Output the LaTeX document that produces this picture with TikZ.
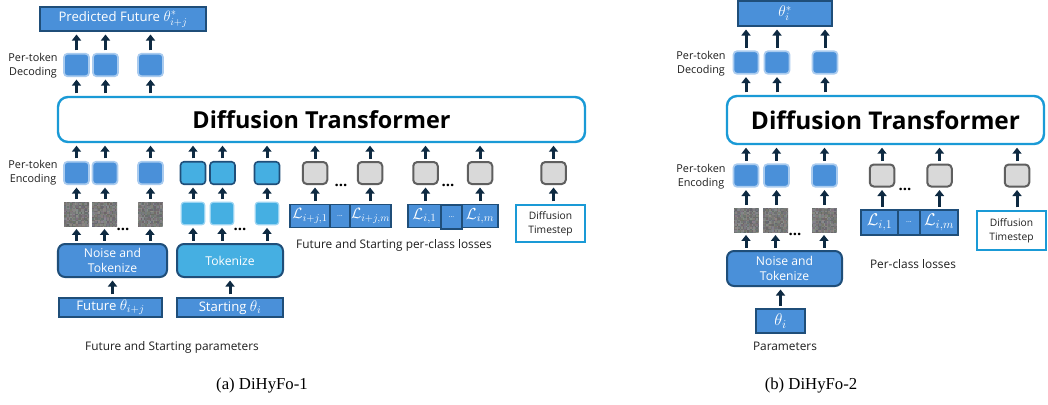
\RequirePackage{fix-cm}
\documentclass[tikz,border=0pt]{standalone}
\usepackage{fontspec}
\setmainfont{Open Sans}
\newfontfamily\capfont{Liberation Serif}
\usetikzlibrary{arrows.meta}

\definecolor{tokblue}{HTML}{4A90D9}
\definecolor{tokblueedge}{HTML}{A9CBEF}
\definecolor{tokcyan}{HTML}{45AFE2}
\definecolor{tokcyanedge}{HTML}{9AD4F2}
\definecolor{navy}{HTML}{1F4E79}
\definecolor{arrowc}{HTML}{0E2A42}
\definecolor{tokgray}{HTML}{D9D9D9}
\definecolor{grayedge}{HTML}{5F5F5F}
\definecolor{dtblue}{HTML}{1A9AD6}
\definecolor{labelc}{HTML}{1E1E1E}

% fine, slightly coloured grain for the noised tokens
\newcommand\grainfill{%
  \foreach \i in {0,...,16}{%
    \foreach \j in {0,...,16}{%
      \pgfmathsetmacro\nl{0.41+0.13*rnd}%
      \pgfmathsetmacro\nr{\nl+0.06*rnd-0.03}%
      \pgfmathsetmacro\ng{\nl+0.06*rnd-0.03}%
      \pgfmathsetmacro\nb{\nl+0.06*rnd-0.03}%
      \definecolor{nz}{rgb}{\nr,\ng,\nb}%
      \fill[nz] ([xshift=\i*1.5bp,yshift=-\j*1.5bp]path picture bounding box.north west)
        rectangle ++(1.55bp,-1.55bp);
    }%
  }%
}
% math set a little larger than the surrounding sans text
\newcommand\sizedmath[2]{{\fontsize{#1}{#1}\selectfont$#2$}}

\tikzset{
  lbl/.style={text=labelc, font=\fontsize{11.9}{13}\selectfont, inner sep=0, align=center},
  sidelbl/.style={text=labelc, font=\fontsize{10.9}{14}\selectfont, inner sep=0, align=center},
  bluetok/.style={draw=tokblueedge, line width=1.7bp, fill=tokblue, rounded corners=3.5bp,
    minimum width=25bp, minimum height=22.5bp, inner sep=0},
  cyantok/.style={draw=navy, line width=1.6bp, fill=tokcyan, rounded corners=3.5bp,
    minimum width=25bp, minimum height=22.5bp, inner sep=0},
  cyanlow/.style={draw=tokcyanedge, line width=1.2bp, fill=tokcyan, rounded corners=3bp,
    minimum width=23.5bp, minimum height=22.5bp, inner sep=0},
  graytok/.style={draw=grayedge, line width=2bp, fill=tokgray, rounded corners=4bp,
    minimum width=24.5bp, minimum height=22bp, inner sep=0},
  noisetok/.style={fill=gray, minimum width=25bp, minimum height=24.5bp, inner sep=0,
    path picture={\grainfill}},
  bluebox/.style={draw=navy, line width=2bp, fill=tokblue, text=white, inner sep=0,
    font=\fontsize{13.2}{15}\selectfont, align=center},
  procbox/.style={draw=navy, line width=2bp, fill=tokblue, text=white, rounded corners=7bp,
    inner sep=0, font=\fontsize{12.2}{15}\selectfont, align=center},
  lossbox/.style={draw=navy, line width=1.8bp, fill=tokblue, text=white, inner sep=0},
  ellcell/.style={lossbox, font=\fontsize{7}{8}\selectfont},
  dtbox/.style={draw=dtblue, line width=2.4bp, fill=white, rounded corners=10bp, inner sep=0},
  tsbox/.style={draw=dtblue, line width=2.4bp, fill=white, inner sep=0, text=labelc,
    font=\fontsize{10.3}{14}\selectfont, align=center},
  dots/.style={inner sep=0, font=\bfseries\fontsize{15}{15}\selectfont, text=black},
  upar/.style={draw=arrowc, line width=3bp, -{Triangle[width=9bp,length=6bp]},
    shorten <=2.5bp, shorten >=2.5bp},
  caption/.style={inner sep=0, font=\capfont\fontsize{16.8}{19}\selectfont}
}

\begin{document}
\begin{tikzpicture}[x=1bp, y=-1bp]
\fill[white] (0,0) rectangle (1048,404);
\useasboundingbox (0,0) rectangle (1048,404);
\pgfmathsetseed{4242}

% ===================== (a) DiHyFo-1 =====================
\node[bluebox, minimum width=166bp, minimum height=24bp] (predA) at (123,19)
  {Predicted Future \sizedmath{15}{\theta^{*}_{i+j}}};

\node[bluetok] (dA1) at (76.5,65) {};
\node[bluetok] (dA2) at (105.5,65) {};
\node[bluetok] (dA3) at (150.5,65) {};
\node[sidelbl] (decA) at (33,66) {Per-token\\Decoding};

\node[dtbox, minimum width=527bp, minimum height=45bp,
  font=\bfseries\fontsize{23.5}{27}\selectfont] (dtA) at (321.5,119.5) {Diffusion Transformer};

\node[bluetok] (eA1) at (76.5,173) {};
\node[bluetok] (eA2) at (105,173) {};
\node[bluetok] (eA3) at (150.5,173) {};
\node[cyantok] (cA1) at (193,173) {};
\node[cyantok] (cA2) at (222.5,173) {};
\node[cyantok] (cA3) at (267,173) {};
\node[graytok] (gA1) at (315,173) {};
\node[graytok] (gA2) at (370,173) {};
\node[graytok] (gA3) at (425.5,173) {};
\node[graytok] (gA4) at (480,173) {};
\node[graytok] (gA5) at (553.5,173) {};
\node[sidelbl] (encA) at (33,173) {Per-token\\Encoding};

\node[noisetok] (nA1) at (76.5,214) {};
\node[noisetok] (nA2) at (104.5,214) {};
\node[noisetok] (nA3) at (150,214) {};
\node[cyanlow] (kA1) at (193,213.5) {};
\node[cyanlow] (kA2) at (222,213.5) {};
\node[cyanlow] (kA3) at (267,213.5) {};

\node[procbox, minimum width=109bp, minimum height=33bp] (ntA) at (112.5,260.5) {Noise and\\Tokenize};
\node[procbox, fill=tokcyan, minimum width=106bp, minimum height=33bp] (tkA) at (230,260.5) {Tokenize};

\node[bluebox, minimum width=103bp, minimum height=19.5bp] (futA) at (110.5,307.5) {Future \sizedmath{15.5}{\theta_{i+j}}};
\node[bluebox, minimum width=106bp, minimum height=19.5bp] (staA) at (230,307.5) {Starting \sizedmath{15.5}{\theta_{i}}};
\node[lbl] (parA) at (172,347) {Future and Starting parameters};

% per-class losses, future then starting
\node[lossbox, minimum width=40bp, minimum height=23bp] (lA1) at (310,216) {\sizedmath{15}{\mathcal{L}_{i+j,1}}};
\node[ellcell, minimum width=20bp, minimum height=23bp] (lA2) at (340,216) {...};
\node[lossbox, minimum width=41bp, minimum height=23bp] (lA3) at (370.5,216) {\sizedmath{15}{\mathcal{L}_{i+j,m}}};
\node[lossbox, minimum width=33bp, minimum height=23bp] (lB1) at (424.5,216) {\sizedmath{16}{\mathcal{L}_{i,1}}};
\node[ellcell, minimum width=21bp, minimum height=24.5bp] (lB2) at (451.5,217) {...};
\node[lossbox, minimum width=36bp, minimum height=23bp] (lB3) at (480,216) {\sizedmath{16}{\mathcal{L}_{i,m}}};
\node[lbl] (losA) at (394,245) {Future and Starting per-class losses};

\node[tsbox, minimum width=69bp, minimum height=37bp] (tsA) at (550.5,223.5) {Diffusion\\Timestep};

\node[dots] (dotA1) at (123,229) {...};
\node[dots] (dotA2) at (240,229) {...};
\node[dots] (dotA3) at (341,185) {...};
\node[dots] (dotA4) at (448,185) {...};

% connectors of (a)
\foreach \t in {dA1,dA2,dA3} \draw[upar] (\t.north) -- (\t.north |- predA.south);
\foreach \t in {dA1,dA2,dA3} \draw[upar] (\t.south |- dtA.north) -- (\t.south);
\foreach \t in {eA1,eA2,eA3,cA1,cA2,cA3,gA1,gA2,gA3,gA4,gA5}
  \draw[upar] (\t.north) -- (\t.north |- dtA.south);
\foreach \s/\t in {nA1/eA1,nA2/eA2,nA3/eA3,kA1/cA1,kA2/cA2,kA3/cA3}
  \draw[upar] (\t.south |- \s.north) -- (\t.south);
\foreach \t in {nA1,nA2,nA3,kA1,kA2,kA3}
  \draw[upar] (\t.south |- ntA.north) -- (\t.south);
\draw[upar] (ntA.south |- futA.north) -- (ntA.south);
\draw[upar] (tkA.south |- staA.north) -- (tkA.south);
\foreach \t in {gA1,gA2,gA3,gA4}
  \draw[upar] (\t.south |- lA1.north) -- (\t.south);
\draw[upar] (gA5.south |- tsA.north) -- (gA5.south);

% ===================== (b) DiHyFo-2 =====================
\node[bluebox, minimum width=94bp, minimum height=25bp] (predB) at (785,13.5) {\sizedmath{15.5}{\theta^{*}_{i}}};

\node[bluetok] (dB1) at (746,62.5) {};
\node[bluetok] (dB2) at (777,62.5) {};
\node[bluetok] (dB3) at (825,62.5) {};
\node[sidelbl] (decB) at (701,63.5) {Per-token\\Decoding};

\node[dtbox, minimum width=317bp, minimum height=48bp,
  font=\bfseries\fontsize{24.5}{28}\selectfont] (dtB) at (885.5,120) {Diffusion Transformer};

\node[bluetok] (eB1) at (746,175.5) {};
\node[bluetok] (eB2) at (776.5,175.5) {};
\node[bluetok] (eB3) at (824.5,175.5) {};
\node[graytok] (gB1) at (882,175.5) {};
\node[graytok] (gB2) at (939.5,175.5) {};
\node[graytok] (gB3) at (1017,175.5) {};
\node[sidelbl] (encB) at (701,177) {Per-token\\Encoding};

\node[noisetok] (nB1) at (746,220) {};
\node[noisetok] (nB2) at (775.5,220) {};
\node[noisetok] (nB3) at (824,220) {};

\node[procbox, minimum width=115bp, minimum height=35bp] (ntB) at (784.5,268.5) {Noise and\\Tokenize};
\node[bluebox, minimum width=49bp, minimum height=24bp] (thB) at (780.5,321) {\sizedmath{17}{\theta_{i}}};
\node[lbl] (parB) at (785,346) {Parameters};

\node[lossbox, minimum width=37bp, minimum height=25bp] (lC1) at (879.5,222.5) {\sizedmath{17}{\mathcal{L}_{i,1}}};
\node[ellcell, minimum width=22bp, minimum height=25bp] (lC2) at (909,222.5) {...};
\node[lossbox, minimum width=38bp, minimum height=25bp] (lC3) at (939,222.5) {\sizedmath{17}{\mathcal{L}_{i,m}}};
\node[lbl] (losB) at (913,264) {Per-class losses};

\node[tsbox, minimum width=69bp, minimum height=39bp] (tsB) at (1011.5,230.5) {Diffusion\\Timestep};

\node[dots] (dotB1) at (795,234) {...};
\node[dots] (dotB2) at (905,189) {...};

% connectors of (b)
\foreach \t in {dB1,dB2,dB3} \draw[upar] (\t.north) -- (\t.north |- predB.south);
\foreach \t in {dB1,dB2,dB3} \draw[upar] (\t.south |- dtB.north) -- (\t.south);
\foreach \t in {eB1,eB2,eB3,gB1,gB2,gB3}
  \draw[upar] (\t.north) -- (\t.north |- dtB.south);
\foreach \s/\t in {nB1/eB1,nB2/eB2,nB3/eB3}
  \draw[upar] (\t.south |- \s.north) -- (\t.south);
\foreach \t in {nB1,nB2,nB3}
  \draw[upar] (\t.south |- ntB.north) -- (\t.south);
\draw[upar] (thB.north) -- (thB.north |- ntB.south);
\foreach \t in {gB1,gB2}
  \draw[upar] (\t.south |- lC1.north) -- (\t.south);
\draw[upar] (gB3.south |- tsB.north) -- (gB3.south);

% sub-figure captions
\node[caption] (capA) at (262,385) {(a) DiHyFo-1};
\node[caption] (capB) at (811,385) {(b) DiHyFo-2};
\end{tikzpicture}
\end{document}
